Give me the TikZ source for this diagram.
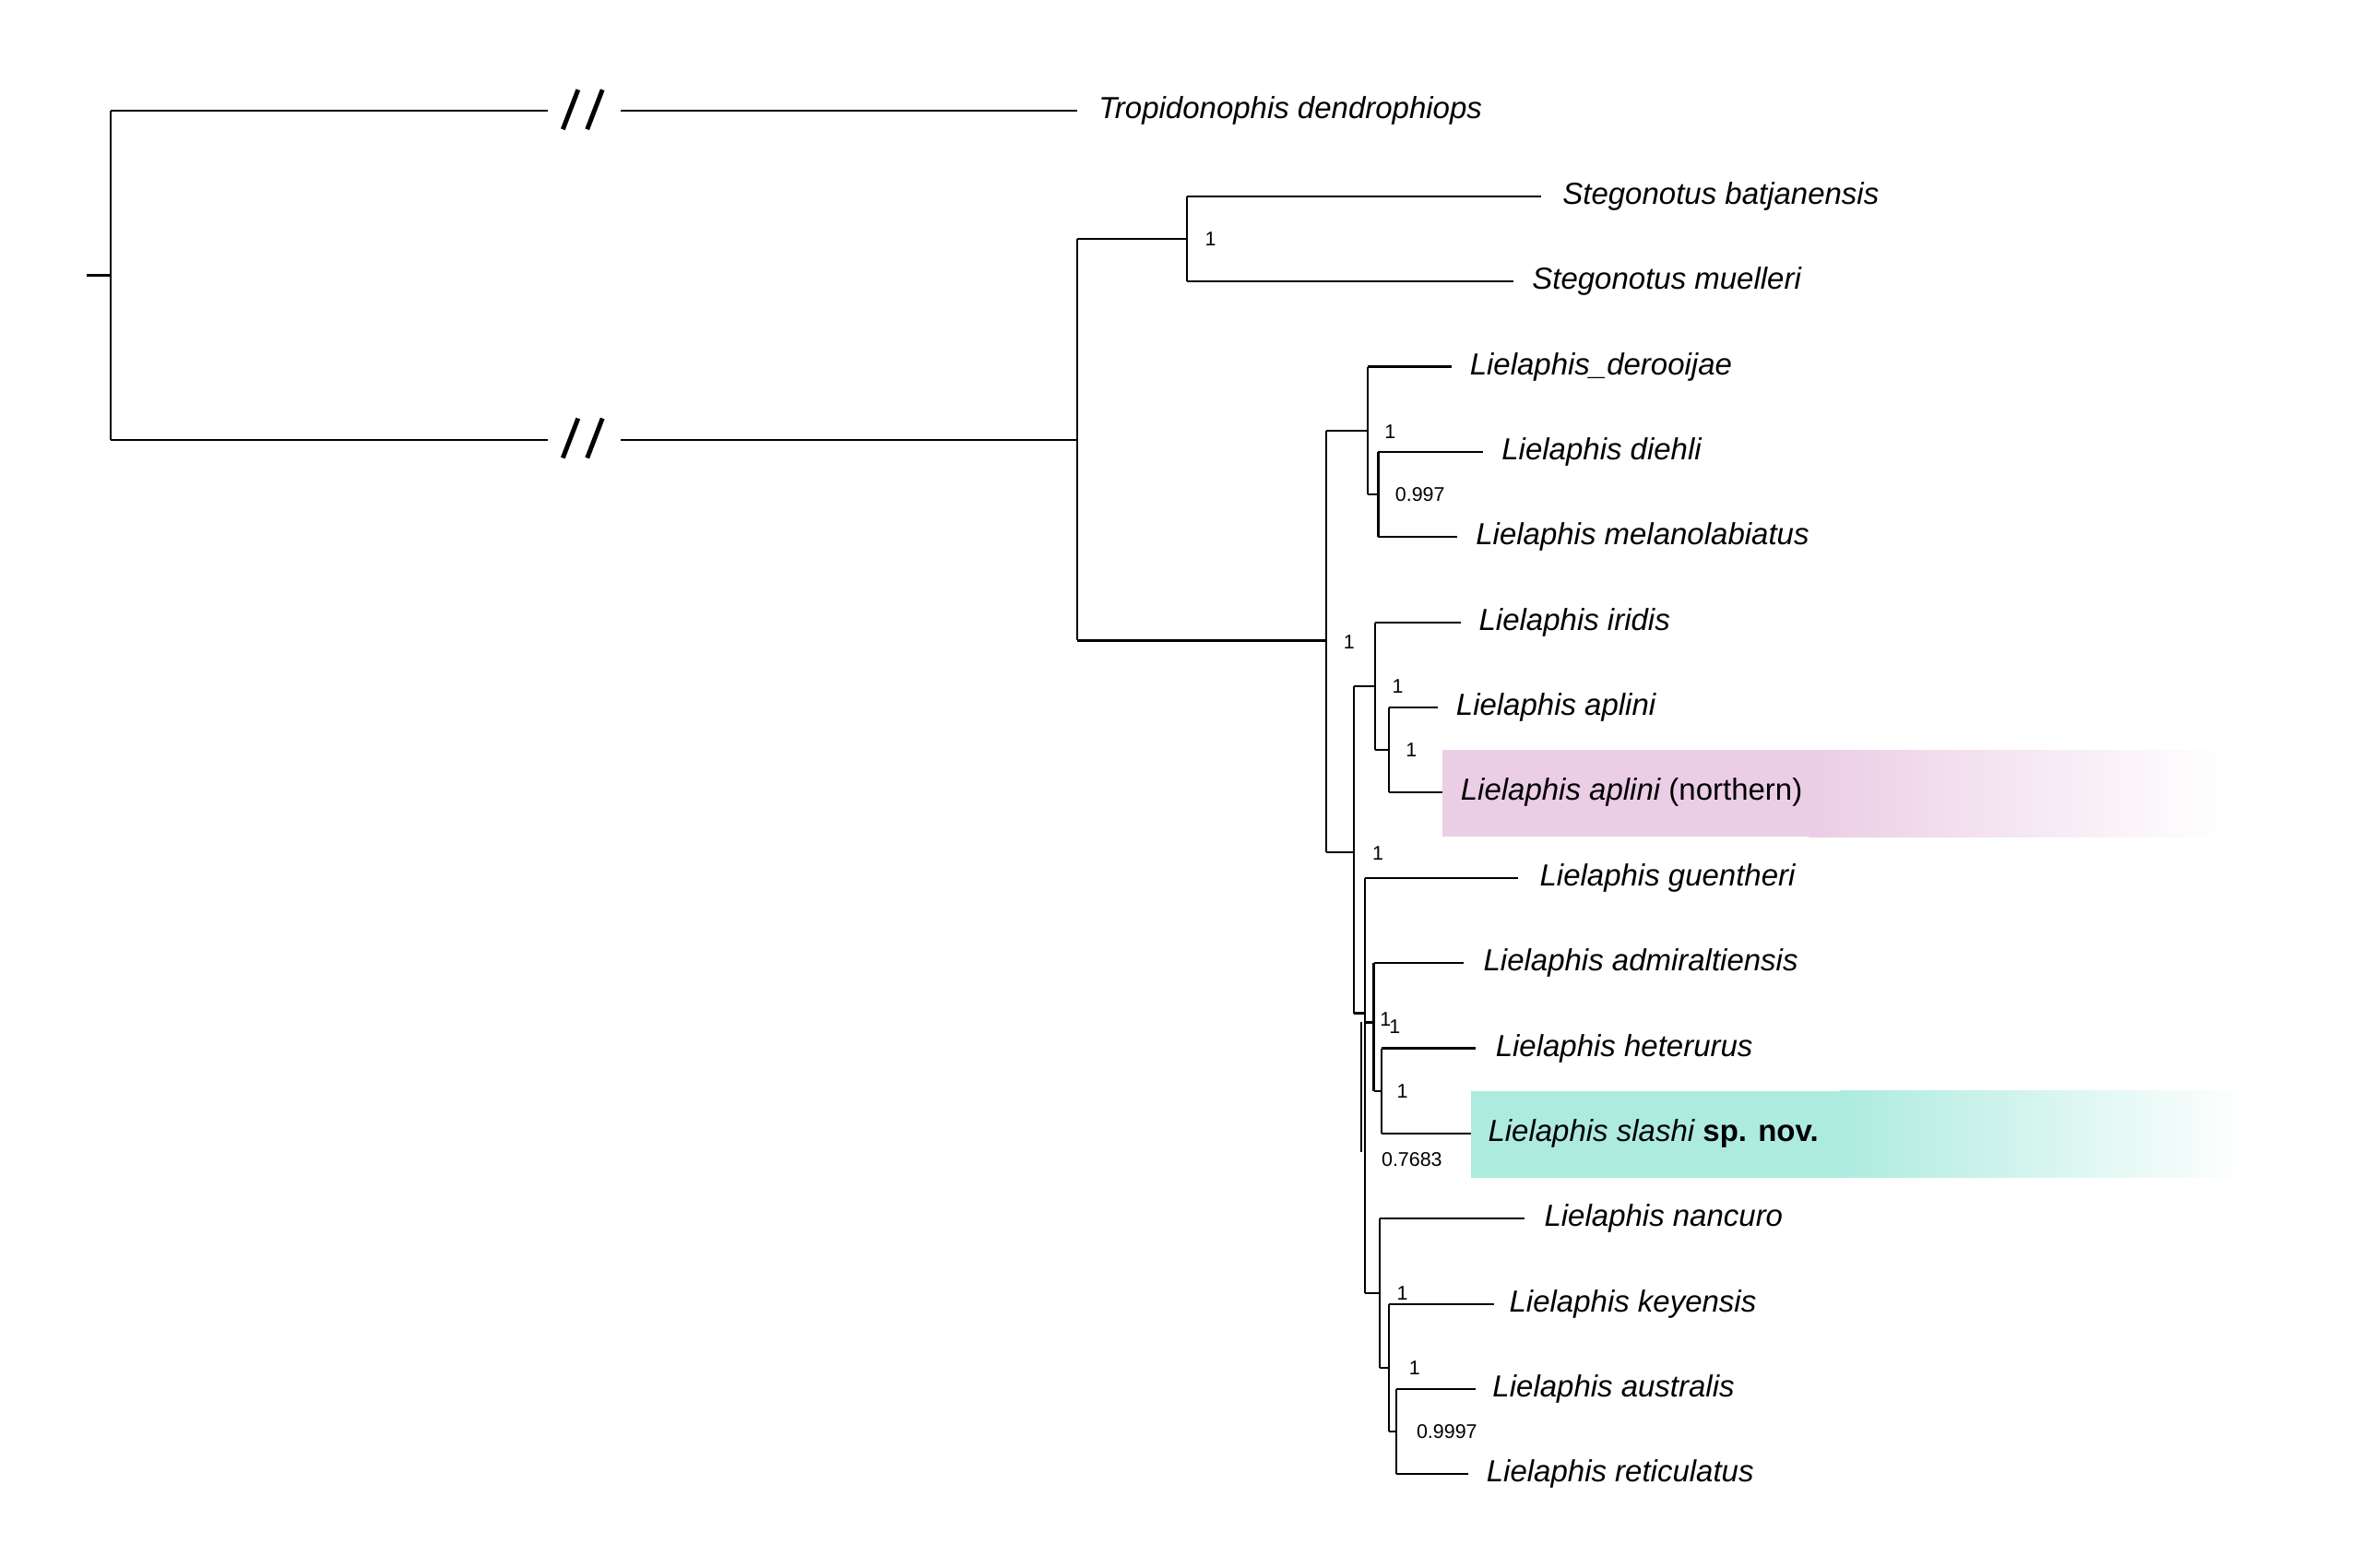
\documentclass[tikz,border=0pt]{standalone}
\usepackage{fontspec}
\setmainfont{Liberation Sans}
\usetikzlibrary{positioning}
\definecolor{pinkbox}{HTML}{EBCDE6}
\definecolor{tealbox}{HTML}{ADEBDF}
\begin{document}
\begin{tikzpicture}[x=1pt,y=-1pt]
    \tikzstyle{branch}=[line width=1.3pt]
    \tikzstyle{taxon}=[anchor=west,inner sep=0pt,font=\fontsize{20}{24}\selectfont\itshape]
    \tikzstyle{support}=[anchor=west,inner sep=0pt,font=\fontsize{13}{15}\selectfont]
    \useasboundingbox (0,0) rectangle (1552,1030.6);

    % highlight boxes
    \fill[pinkbox] (948,493) rectangle (1190,550);
    \shade[left color=pinkbox,right color=white] (1189,493) rectangle (1460,550);
    \fill[tealbox] (967,717) rectangle (1210,774);
    \shade[left color=tealbox,right color=white] (1209,717) rectangle (1475,774);

    % taxa
    \node[taxon] (Trop) at (722,73) {Tropidonophis dendrophiops};
    \node[taxon] (Sbat) at (1027,129) {Stegonotus batjanensis};
    \node[taxon] (Smue) at (1007,185) {Stegonotus muelleri};
    \node[taxon] (Lder) at (966,241) {Lielaphis\_derooijae};
    \node[taxon] (Ldie) at (987,297) {Lielaphis diehli};
    \node[taxon] (Lmel) at (970,353) {Lielaphis melanolabiatus};
    \node[taxon] (Liri) at (972,409) {Lielaphis iridis};
    \node[taxon] (Lapl) at (957,465) {Lielaphis aplini};
    \node[taxon] (Lapn) at (960,521) {Lielaphis aplini \upshape(northern)};
    \node[taxon] (Lgue) at (1012,577) {Lielaphis guentheri};
    \node[taxon] (Ladm) at (975,633) {Lielaphis admiraltiensis};
    \node[taxon] (Lhet) at (983,689) {Lielaphis heterurus};
    \node[taxon] (Lsla) at (978,745) {Lielaphis slashi \upshape\bfseries sp. nov.};
    \node[taxon] (Lnan) at (1015,801) {Lielaphis nancuro};
    \node[taxon] (Lkey) at (992,857) {Lielaphis keyensis};
    \node[taxon] (Laus) at (981,913) {Lielaphis australis};
    \node[taxon] (Lret) at (977,969) {Lielaphis reticulatus};

    % internal nodes
    \coordinate (root) at (73,181);
    \coordinate (stub) at (57,181);
    \coordinate (nOut) at (708,289);
    \coordinate (nSte) at (780,157);
    \coordinate (nLie) at (872,421);
    \coordinate (nB) at (899,283);
    \coordinate (nD) at (906,325);
    \coordinate (nC) at (890,560);
    \coordinate (nE) at (904,451);
    \coordinate (nF) at (913,493);
    \coordinate (nH) at (897,666);
    \coordinate (nI) at (903,672);
    \coordinate (nL) at (908,717);
    \coordinate (nJ) at (907,850);
    \coordinate (nM) at (913,899);
    \coordinate (nN) at (918,941);

    % root and broken branches
    \draw[branch] (stub) -- (root);
    \draw[branch] (root |- Trop) -- (root |- nOut);
    \draw[branch] (root |- Trop) -- (360,73) (408,73) -- ([xshift=-14pt]Trop.west);
    \draw[branch] (root |- nOut) -- (360,289) (408,289) -- (nOut);
    \foreach \y in {73,289}{
      \foreach \dx in {0,16}{
        \draw[line width=3pt] (370+\dx,\y+12) -- (380+\dx,\y-14);
      }
    }

    % clades
    \draw[branch] (nOut |- nSte) -- (nOut |- nLie) (nOut |- nSte) -- (nSte) (nOut) -- (nOut) (nOut |- nLie) -- (nLie);
    \draw[branch] (nSte |- Sbat) -- (nSte |- Smue) (nSte |- Sbat) -- ([xshift=-14pt]Sbat.west) (nSte |- Smue) -- ([xshift=-12pt]Smue.west);
    \draw[branch] (nLie |- nB) -- (nLie |- nC) (nLie |- nB) -- (nB) (nLie |- nC) -- (nC);
    \draw[branch] (nB |- Lder) -- (nB |- nD) (nB |- Lder) -- ([xshift=-12pt]Lder.west) (nB |- nD) -- (nD);
    \draw[branch] (nD |- Ldie) -- (nD |- Lmel) (nD |- Ldie) -- ([xshift=-12pt]Ldie.west) (nD |- Lmel) -- ([xshift=-12pt]Lmel.west);
    \draw[branch] (nC |- nE) -- (nC |- nH) (nC |- nE) -- (nE) (nC |- nH) -- (nH);
    \draw[branch] (nE |- Liri) -- (nE |- nF) (nE |- Liri) -- ([xshift=-12pt]Liri.west) (nE |- nF) -- (nF);
    \draw[branch] (nF |- Lapl) -- (nF |- Lapn) (nF |- Lapl) -- ([xshift=-12pt]Lapl.west) (nF |- Lapn) -- ([xshift=-12pt]Lapn.west);
    \draw[branch] (nH |- Lgue) -- (nH |- nJ) (nH |- Lgue) -- ([xshift=-14pt]Lgue.west) (nH |- nI) -- (nI) (nH |- nJ) -- (nJ);
    \draw[branch] (895,672) -- (895,757);
    \draw[branch] (nI |- Ladm) -- (nI |- nL) (nI |- Ladm) -- ([xshift=-13pt]Ladm.west) (nI |- nL) -- (nL);
    \draw[branch] (nL |- Lhet) -- (nL |- Lsla) (nL |- Lhet) -- ([xshift=-13pt]Lhet.west) (nL |- Lsla) -- ([xshift=-11pt]Lsla.west);
    \draw[branch] (nJ |- Lnan) -- (nJ |- nM) (nJ |- Lnan) -- ([xshift=-13pt]Lnan.west) (nJ |- nM) -- (nM);
    \draw[branch] (nM |- Lkey) -- (nM |- nN) (nM |- Lkey) -- ([xshift=-10pt]Lkey.west) (nM |- nN) -- (nN);
    \draw[branch] (nN |- Laus) -- (nN |- Lret) (nN |- Laus) -- ([xshift=-11pt]Laus.west) (nN |- Lret) -- ([xshift=-12pt]Lret.west);

    % support values
    \node[support] (sSte) at (792,157) {1};
    \node[support] (sLie) at (883,422) {1};
    \node[support] (sB) at (910,284) {1};
    \node[support] (sD) at (917,325) {0.997};
    \node[support] (sE) at (915,451) {1};
    \node[support] (sF) at (924,493) {1};
    \node[support] (sC) at (902,561) {1};
    \node[support] (sH) at (907,670) {1};
    \node[support] (sI) at (913,675) {1};
    \node[support] (sL) at (918,717) {1};
    \node[support] (sL2) at (908,762) {0.7683};
    \node[support] (sJ) at (918,850) {1};
    \node[support] (sM) at (926,899) {1};
    \node[support] (sN) at (931,941) {0.9997};
\end{tikzpicture}
\end{document}
